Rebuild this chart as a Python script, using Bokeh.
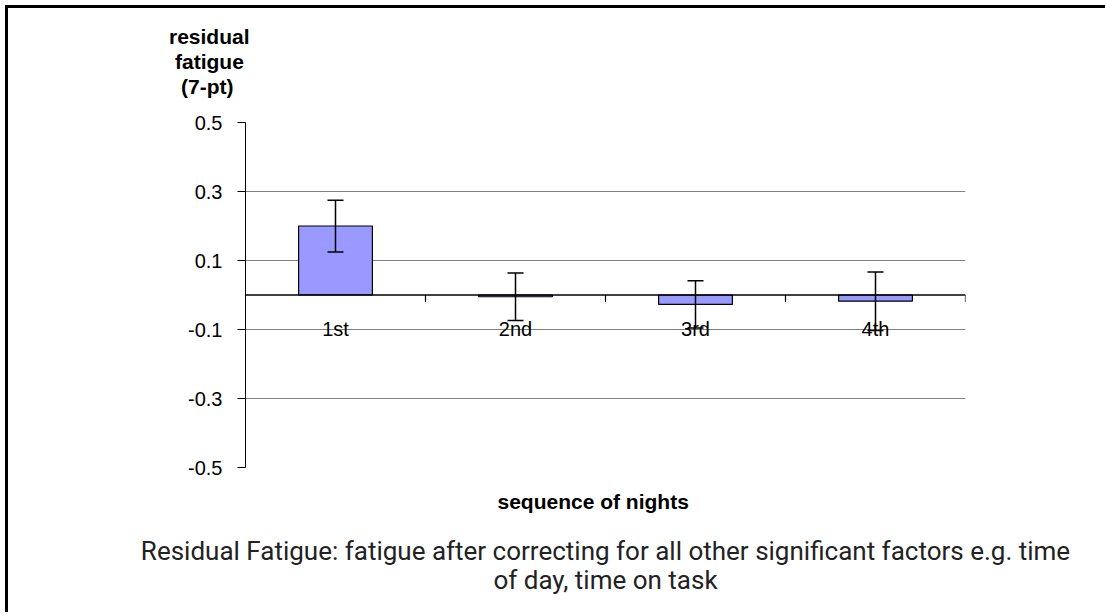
from bokeh.plotting import figure
from bokeh.models import (Range1d, ColumnDataSource, Span, Title, FixedTicker,
                          Whisker, TeeHead)
from bokeh.core.properties import value
from bokeh.embed import file_html
from bokeh.resources import INLINE

# ---- data ----
nights = ["1st", "2nd", "3rd", "4th"]
residual = [0.2, -0.005, -0.027, -0.018]
err = [0.075, 0.069, 0.0685, 0.085]
y_ticks = [-0.5, -0.3, -0.1, 0.1, 0.3, 0.5]
y_tick_labels = ["-0.5", "-0.3", "-0.1", "0.1", "0.3", "0.5"]
y_title_lines = ["residual", "fatigue", "(7-pt)"]
x_title = "sequence of nights"
caption_lines = ["Residual Fatigue: fatigue after correcting for all other significant factors e.g. time",
                 "of day, time on task"]

FONT = "Liberation Sans"

centers = [i + 0.5 for i in range(len(nights))]
src = ColumnDataSource(dict(
    x=centers, top=residual, name=nights,
    upper=[v + e for v, e in zip(residual, err)],
    lower=[v - e for v, e in zip(residual, err)],
))

p = figure(width=1110, height=612,
           x_range=Range1d(0, len(nights)), y_range=Range1d(-0.5, 0.5),
           output_backend="svg", toolbar_location=None,
           min_border_left=245, min_border_right=145,
           min_border_top=122, min_border_bottom=145)
# thin black frame line on the left and top edges of the chart area
p.styles = {"box-shadow": "inset 5px 5px 0 0 #fff, inset 8px 8px 0 0 #000"}
p.outline_line_color = None
p.background_fill_color = "white"
p.border_fill_color = None

p.xaxis.visible = False
p.xgrid.visible = False

yax = p.yaxis[0]
yax.ticker = FixedTicker(ticks=y_ticks)
yax.major_label_overrides = {t: l for t, l in zip(y_ticks, y_tick_labels)}
yax.major_tick_out = 8
yax.major_tick_in = 0
yax.minor_tick_out = 0
yax.minor_tick_in = 0
yax.major_label_standoff = 15
yax.major_label_text_font = FONT
yax.major_label_text_font_size = "20px"
yax.major_label_text_color = "black"
yax.axis_line_color = "black"
yax.major_tick_line_color = "black"

p.ygrid.ticker = FixedTicker(ticks=y_ticks)
p.ygrid.grid_line_color = "#808080"
p.ygrid.grid_line_width = 1

# bars
p.vbar(x="x", top="top", bottom=0, width=0.41, source=src,
       fill_color="#9999FF", line_color="black", line_width=1.2)

# zero axis line
p.add_layout(Span(location=0, dimension="width", line_color="black", line_width=1.3))

# category ticks on zero line
bounds = list(range(1, len(nights) + 1))
p.segment(x0=bounds, x1=bounds, y0=[0] * len(bounds), y1=[-0.02] * len(bounds),
          line_color="black", line_width=1.2)

# error bars
p.add_layout(Whisker(base="x", upper="upper", lower="lower", source=src, level="overlay",
                     line_color="black", line_width=1.5,
                     upper_head=TeeHead(size=16, line_color="black", line_width=1.5),
                     lower_head=TeeHead(size=16, line_color="black", line_width=1.5)))

# category labels
p.text(x="x", y=0, text="name", source=src, y_offset=34,
       text_align="center", text_baseline="middle",
       text_font=value(FONT), text_font_size="20px", text_color="black")

# y title, stacked above the frame (closest first); an invisible spacer sits next to the frame
title_style = dict(text_font=FONT, text_font_style="bold", text_font_size="21px")
p.add_layout(Title(text=y_title_lines[-1], align="left", standoff=0,
                   text_color="white", **title_style), "above")
for line, so, off in zip(reversed(y_title_lines), [0, 0, -1], [-64.5, -70.5, -76.5]):
    p.add_layout(Title(text=line, align="left", offset=off, standoff=so,
                       text_color="black", **title_style), "above")

# x title and caption, stacked below the frame
p.add_layout(Title(text=x_title, align="left", offset=252, standoff=40,
                   text_color="black", **title_style), "below")
for line, so in zip(caption_lines, [3, -10]):
    p.add_layout(Title(text=line, align="center", standoff=so,
                       text_font="Roboto", text_font_style="normal", text_font_size="26px",
                       text_color="#222222"), "below")

open("out.html", "w").write(file_html(p, INLINE))
